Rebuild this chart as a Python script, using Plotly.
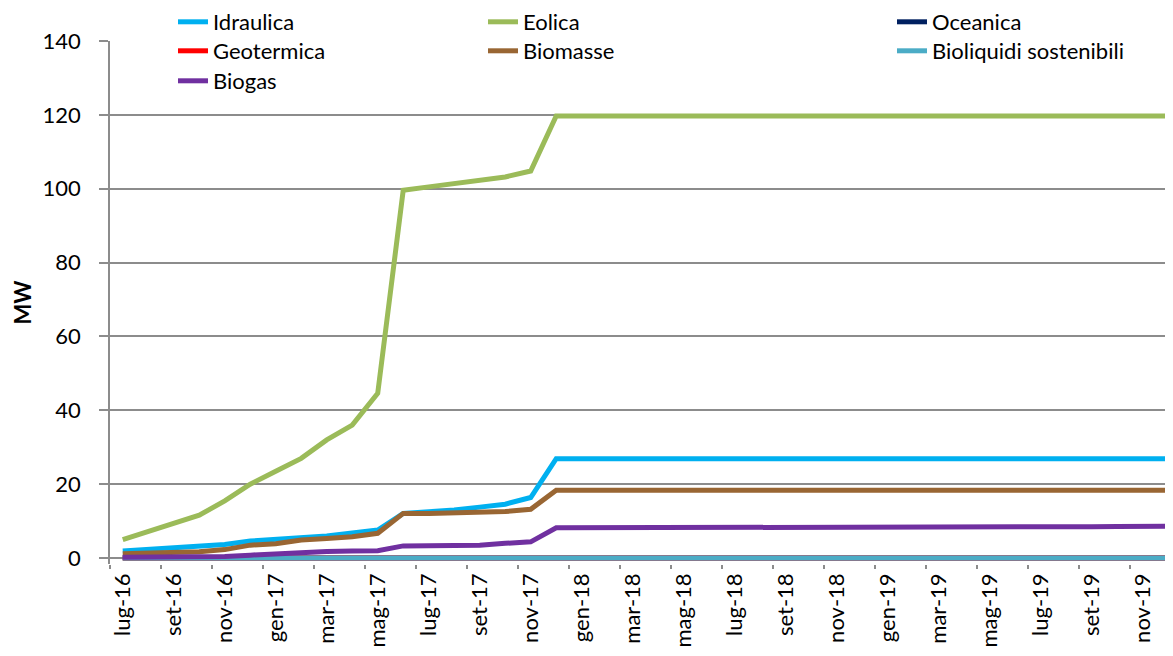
import plotly.graph_objects as go

months = ["lug-16","ago-16","set-16","ott-16","nov-16","dic-16",
          "gen-17","feb-17","mar-17","apr-17","mag-17","giu-17",
          "lug-17","ago-17","set-17","ott-17","nov-17","dic-17",
          "gen-18","feb-18","mar-18","apr-18","mag-18","giu-18",
          "lug-18","ago-18","set-18","ott-18","nov-18","dic-18",
          "gen-19","feb-19","mar-19","apr-19","mag-19","giu-19",
          "lug-19","ago-19","set-19","ott-19","nov-19","dic-19"]

idraulica = [1.9, 2.4, 2.9, 3.3, 3.7, 4.6, 5.0, 5.6, 6.0, 6.8, 7.6, 12.1,
             12.4, 13.0, 13.8, 14.6, 16.4, 26.9, 26.9, 26.9, 26.9, 26.9, 26.9, 26.9,
             26.9, 26.9, 26.9, 26.9, 26.9, 26.9, 26.9, 26.9, 26.9, 26.9, 26.9, 26.9,
             26.9, 26.9, 26.9, 26.9, 26.9, 26.9]
eolica = [5.0, 7.2, 9.4, 11.6, 15.5, 20.0, 23.5, 27.0, 32.0, 36.0, 44.6, 99.6,
          100.5, 101.4, 102.3, 103.2, 104.8, 119.7, 119.7, 119.7, 119.7, 119.7, 119.7, 119.7,
          119.7, 119.7, 119.7, 119.7, 119.7, 119.7, 119.7, 119.7, 119.7, 119.7, 119.7, 119.7,
          119.7, 119.7, 119.7, 119.7, 119.7, 119.7]
oceanica = [0, 0, 0, 0, 0, 0, 0, 0, 0, 0, 0, 0, 0, 0, 0, 0, 0, 0, 0, 0, 0,
            0, 0, 0, 0, 0, 0, 0, 0, 0, 0, 0, 0, 0, 0, 0, 0, 0, 0, 0, 0, 0]
geotermica = [0, 0, 0, 0, 0, 0, 0, 0, 0, 0, 0, 0, 0, 0, 0, 0, 0, 0, 0, 0, 0,
              0, 0, 0, 0, 0, 0, 0, 0, 0, 0, 0, 0, 0, 0, 0, 0, 0, 0, 0, 0, 0]
biomasse = [1.2, 1.4, 1.5, 1.7, 2.3, 3.5, 3.9, 4.9, 5.3, 5.8, 6.7, 12.1,
            12.1, 12.2, 12.3, 12.6, 13.2, 18.4, 18.4, 18.4, 18.4, 18.4, 18.4, 18.4,
            18.4, 18.4, 18.4, 18.4, 18.4, 18.4, 18.4, 18.4, 18.4, 18.4, 18.4, 18.4,
            18.4, 18.4, 18.4, 18.4, 18.4, 18.4]
bioliquidi = [0, 0, 0, 0, 0, 0, 0, 0, 0, 0, 0, 0, 0, 0, 0, 0, 0, 0, 0, 0, 0,
              0, 0, 0, 0, 0, 0, 0, 0, 0, 0, 0, 0, 0, 0, 0, 0, 0, 0, 0, 0, 0]
biogas = [0.2, 0.2, 0.3, 0.35, 0.45, 0.8, 1.2, 1.7, 1.8, 1.9, 2.0, 3.3,
          3.4, 3.5, 3.5, 4.0, 4.4, 8.2, 8.2, 8.2, 8.2, 8.2, 8.2, 8.2,
          8.2, 8.2, 8.2, 8.2, 8.2, 8.2, 8.2, 8.2, 8.2, 8.25, 8.3, 8.35,
          8.4, 8.45, 8.5, 8.55, 8.6, 8.6]

y_ticks = [0, 20, 40, 60, 80, 100, 120, 140]

# name, values, colour, legend column, legend row
series = [
    ("Idraulica", idraulica, "#00B0F0", 0, 0),
    ("Eolica", eolica, "#9BBB59", 1, 0),
    ("Oceanica", oceanica, "#002060", 2, 0),
    ("Geotermica", geotermica, "#FF0000", 0, 1),
    ("Biomasse", biomasse, "#996633", 1, 1),
    ("Bioliquidi sostenibili", bioliquidi, "#4BACC6", 2, 1),
    ("Biogas", biogas, "#7030A0", 0, 2),
]

FONT = "Lato"
FS = 22
W, H = 1165, 648          # page body has an 8px margin
col_x = [165, 475, 884]   # legend left edges (figure px)
row_mid = [14, 43, 73]    # legend vertical centres (figure px)

fig = go.Figure()
layout_legends = {}
for i, (name, vals, color, c, r) in enumerate(series):
    key = "legend" if i == 0 else f"legend{i + 1}"
    fig.add_trace(go.Scatter(
        x=months, y=vals, name=name, mode="lines",
        line=dict(color=color, width=5),
        legend=key,
    ))
    layout_legends[key] = dict(
        orientation="v", xref="container", yref="container",
        yanchor="middle", xanchor="left",
        x=col_x[c] / W, y=1 - row_mid[r] / H,
        font=dict(family=FONT, size=FS, color="#000000"),
        bgcolor="rgba(0,0,0,0)",
    )

fig.update_layout(
    width=W, height=H,
    margin=dict(l=102, r=0, t=33, b=92, autoexpand=False),
    paper_bgcolor="white", plot_bgcolor="white",
    font=dict(family=FONT, size=FS, color="#000000"),
    showlegend=True,
    **layout_legends,
    xaxis=dict(
        type="category",
        range=[-0.5, 41.19],
        tickmode="linear", dtick=2, tick0=0,
        tickangle=-90,
        tickson="boundaries",
        ticks="outside", ticklen=4, tickcolor="#8C8C8C", tickwidth=1.5,
        showline=False,
        showgrid=False,
        ticklabelstandoff=4,
        tickfont=dict(family=FONT, size=FS, color="#000000"),
    ),
    yaxis=dict(
        range=[-1.6, 140],
        tickmode="array", tickvals=y_ticks,
        ticks="outside", ticklen=9, tickcolor="#8C8C8C", tickwidth=1.5,
        showline=True, linecolor="#8C8C8C", linewidth=1.5,
        showgrid=True, gridcolor="#8C8C8C", gridwidth=1.6,
        zeroline=True, zerolinecolor="#8C8C8C", zerolinewidth=1.6,
        ticklabelstandoff=14,
        tickfont=dict(family=FONT, size=FS, color="#000000"),
    ),
    annotations=[dict(
        text="<b>MW</b>", textangle=-90, showarrow=False,
        xref="paper", yref="paper",
        x=(22 - 8 - 102) / (W - 102), y=0.5,
        xanchor="center", yanchor="middle",
        font=dict(family=FONT, size=FS, color="#000000"),
    )],
)

fig.write_html("out.html")
